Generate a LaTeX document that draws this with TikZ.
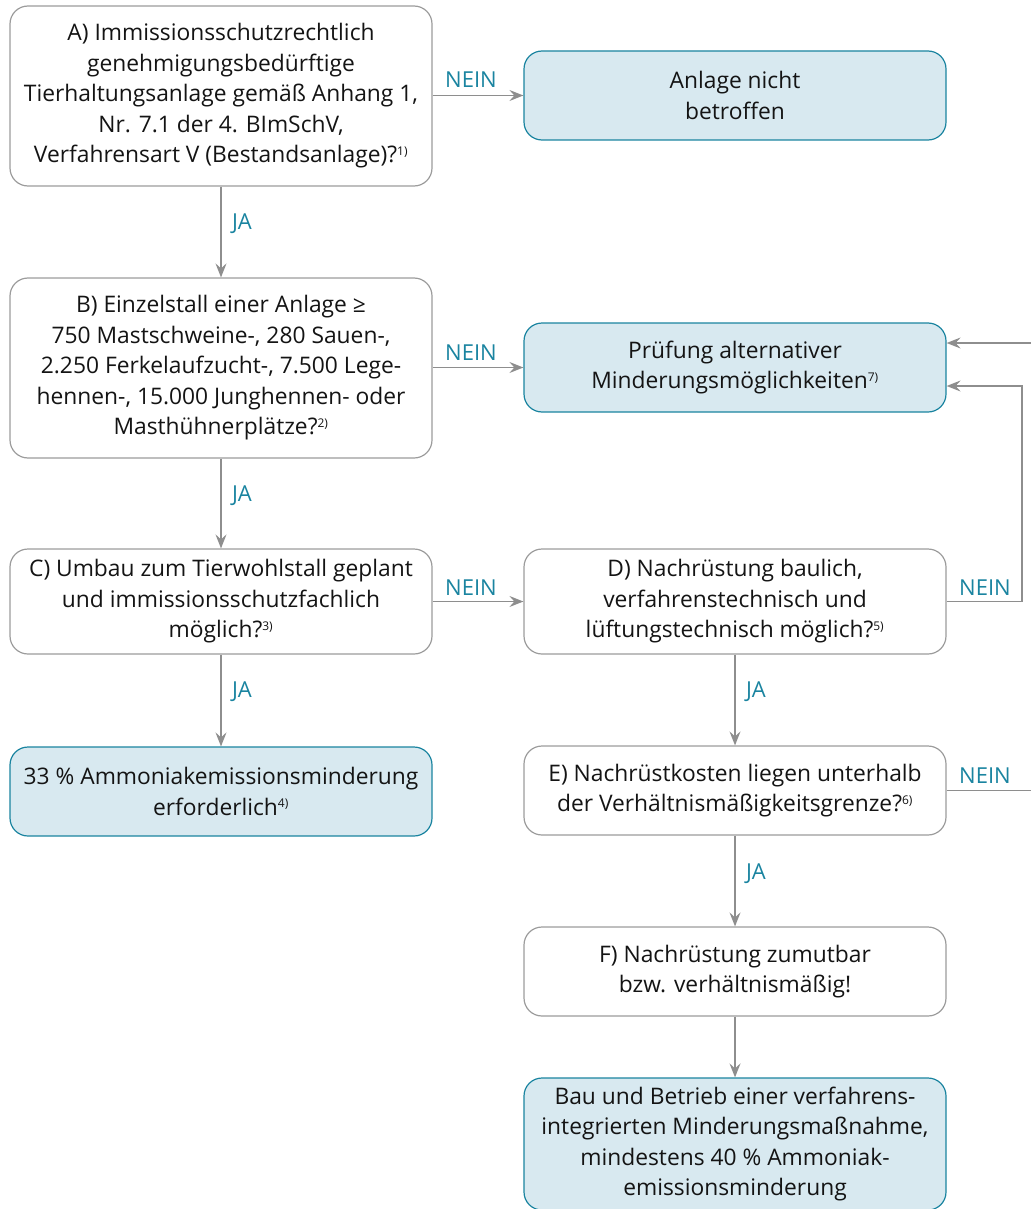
\documentclass[tikz,border=0pt]{standalone}
\usepackage{fontspec}
\setmainfont{Open Sans}
\usetikzlibrary{arrows.meta}
\definecolor{tealc}{HTML}{1A84A0}
\definecolor{lblue}{HTML}{D8E9F0}
\definecolor{bgray}{HTML}{9C9C9C}
\definecolor{agray}{HTML}{8E8E8E}
\definecolor{txt}{HTML}{141414}
\newcommand{\fn}[1]{\textsuperscript{\fontsize{12}{12}\selectfont #1}}
\begin{document}
\begin{tikzpicture}[x=1pt,y=-1pt,
  box/.style={draw=bgray, line width=1.2pt, rounded corners=18pt, fill=white,
    minimum width=422pt, align=center, inner sep=0pt, text=txt,
    font=\fontsize{22.8}{30.5}\selectfont},
  bluebox/.style={box, draw=tealc, fill=lblue},
  arr/.style={draw=agray, line width=1.3pt, -{Stealth[length=14pt,width=11pt,inset=5pt]}},
  lab/.style={text=tealc, font=\fontsize{22}{24}\selectfont, inner sep=0pt}]
\useasboundingbox (0,0) rectangle (1030,1209);
\node[box, minimum height=180pt] (A) at (221,96) {A) Immissionsschutzrechtlich\\genehmigungsbedürftige\\Tierhaltungsanlage gemäß Anhang 1,\\Nr. 7.1 der 4. BImSchV,\\Verfahrensart V (Bestandsanlage)?\fn{1)}};
\node[bluebox, minimum height=89pt] (N) at (735,95.5) {Anlage nicht\\betroffen};
\node[box, minimum height=180pt] (B) at (221,368) {B) Einzelstall einer Anlage ≥\\750 Mastschweine-, 280 Sauen-,\\2.250 Ferkelaufzucht-, 7.500 Lege-\\hennen-, 15.000 Junghennen- oder\\Masthühnerplätze?\fn{2)}};
\node[bluebox, minimum height=89pt] (P) at (735,367.5) {Prüfung alternativer\\Minderungsmöglichkeiten\fn{7)}};
\node[box, minimum height=105pt] (C) at (221,601.5) {C) Umbau zum Tierwohlstall geplant\\und immissionsschutzfachlich\\möglich?\fn{3)}};
\node[box, minimum height=105pt] (D) at (735,601.5) {D) Nachrüstung baulich,\\verfahrenstechnisch und\\lüftungstechnisch möglich?\fn{5)}};
\node[bluebox, minimum height=89pt] (M) at (221,791.5) {33 \% Ammoniakemissionsminderung\\erforderlich\fn{4)}};
\node[box, minimum height=89pt] (E) at (735,790.5) {E) Nachrüstkosten liegen unterhalb\\der Verhältnismäßigkeitsgrenze?\fn{6)}};
\node[box, minimum height=89pt] (F) at (735,971.5) {F) Nachrüstung zumutbar\\bzw. verhältnismäßig!};
\node[bluebox, minimum height=132pt] (G) at (735,1144) {Bau und Betrieb einer verfahrens-\\integrierten Minderungsmaßnahme,\\mindestens 40 \% Ammoniak-\\emissionsminderung};
\draw[arr] (A.east |- N) -- (N);
\draw[arr] (A) -- (B);
\draw[arr] (B.east |- P) -- (P);
\draw[arr] (B) -- (C);
\draw[arr] (C) -- (D);
\draw[arr] (C) -- (M);
\draw[arr] (D) -- (E);
\draw[arr] (E) -- (F);
\draw[arr] (F) -- (G);
\coordinate (r1) at (1022,386);
\coordinate (r2) at (1036,343);
\draw[arr] (D.east) -| (r1) -- (P.east |- r1);
\draw[arr] (E.east) -| (r2) -- (P.east |- r2);
\node[lab] (l1) at (471,80) {NEIN};
\node[lab] (l2) at (242,224) {JA};
\node[lab] (l3) at (471,353) {NEIN};
\node[lab] (l4) at (242,496) {JA};
\node[lab] (l5) at (471,588) {NEIN};
\node[lab] (l6) at (242,692) {JA};
\node[lab] (l7) at (756,692) {JA};
\node[lab] (l8) at (985,588) {NEIN};
\node[lab] (l9) at (985,776) {NEIN};
\node[lab] (l10) at (756,874) {JA};
\end{tikzpicture}
\end{document}
